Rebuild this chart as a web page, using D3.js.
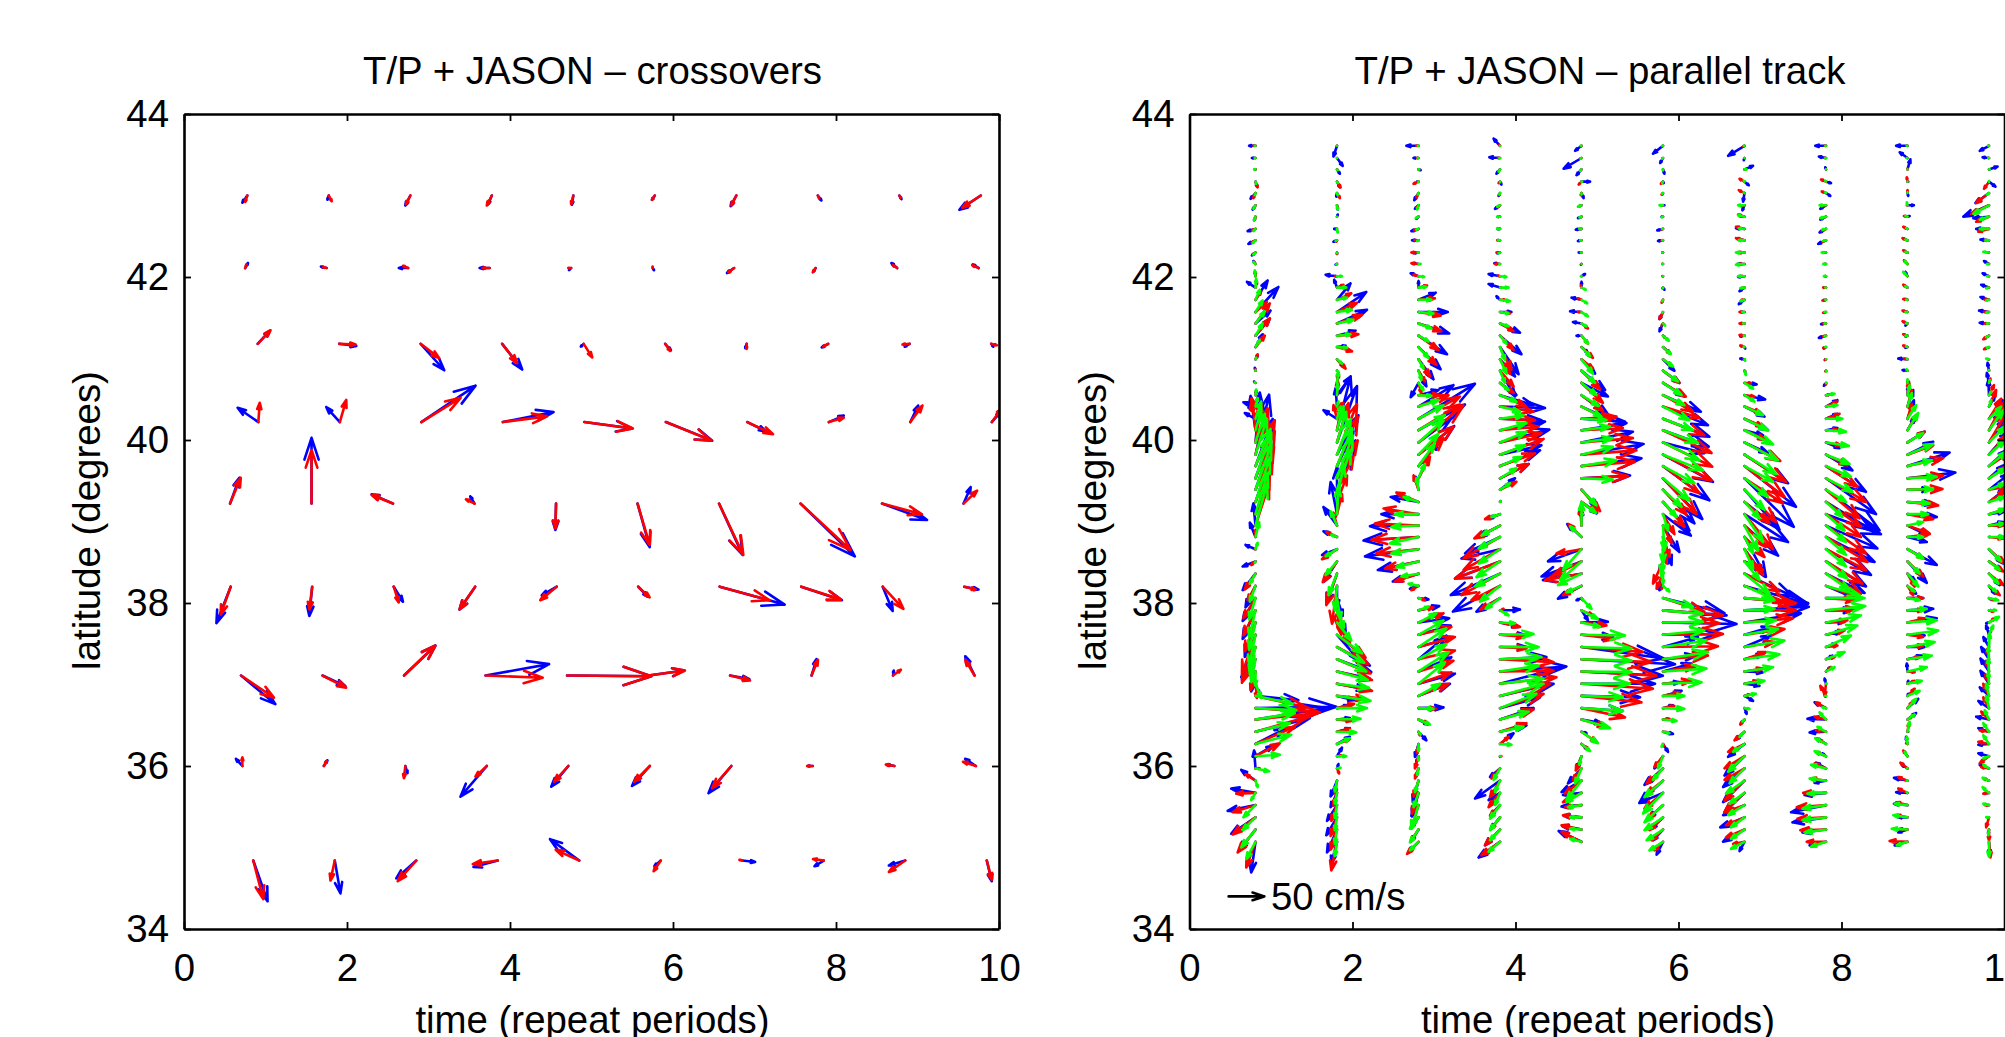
<!DOCTYPE html>
<html>
<head>
<meta charset="utf-8">
<title>T/P + JASON</title>
<script src="https://cdn.jsdelivr.net/npm/d3@7"></script>
<style>
  html, body { margin: 0; padding: 0; background: #fff; overflow: hidden; }
  text { font-family: "Liberation Sans", Arial, sans-serif; fill: #000; }
</style>
</head>
<body>
<div id="chart"></div>
<script>
var xTicks = [0, 2, 4, 6, 8, 10];
var yTicks = [34, 36, 38, 40, 42, 44];

// crossovers: one latitude per row, first time of the row, then [red u, red v, blue u, blue v] in cm/s
var crossLat = [43.0, 42.11, 41.18, 40.22, 39.22, 38.2, 37.11, 36.0, 34.84];
var crossTime = [0.777, 0.75, 0.904, 0.912, 0.565, 0.573, 0.70, 0.716, 0.85];
var cross1 = [[-3,-9,-7,-10],[4,-8,-2,-6],[-6,-12,-7,-14],[-7,-14,-5,-12],[-3,-12,-2,-13],[-4,-6,-4,-6],[-7,-14,-8,-15],[2,-4,5,-7],[2,-3,3,-5],[-26,-17,-30,-20]];
var cross2 = [[2,5,4,7],[-5,1,-8,2],[-7,3,-13,0],[-10,0,-14,0],[-4,0,-3,-3],[0,2,2,-3],[-8,-6,-10,-7],[-4,-6,-3,-5],[-6,4,-8,7],[-9,4,-8,5]];
var cross3 = [[18,19,17,18],[23,-1,24,-3],[26,-20,33,-37],[21,-27,28,-36],[12,-19,-4,-4],[7,-10,8,-9],[0,-7,-2,-6],[-7,-4,-9,-5],[-10,-1,-7,-4],[8,-2,3,-4]];
var cross4 = [[2,27,-29,20],[9,31,-19,21],[55,34,76,51],[62,8,71,14],[68,-9,67,-9],[64,-26,65,-26],[36,-17,26,-13],[21,6,21,9],[17,23,11,23],[14,19,12,14]];
var cross5 = [[15,36,13,36],[0,75,0,92],[-30,12,-30,13],[-12,6,-6,10],[-1,-35,-1,-37],[17,-58,17,-61],[34,-72,33,-72],[70,-65,76,-74],[56,-15,63,-23],[19,18,10,23]];
var cross6 = [[-14,-39,-20,-51],[-4,-32,-4,-41],[7,-22,13,-21],[-22,-32,-22,-32],[-23,-19,-21,-12],[16,-15,13,-14],[70,-19,91,-25],[56,-18,57,-19],[29,-31,14,-34],[16,-4,20,-4]];
var cross7 = [[46,-31,48,-40],[33,-17,32,-15],[44,42,44,42],[80,-3,89,16],[118,-1,118,-1],[51,7,50,7],[28,-7,27,-5],[9,22,7,23],[11,8,1,7],[-13,22,-13,27]];
var cross8 = [[0,12,-9,10],[4,7,5,8],[-2,-17,3,-10],[-16,-15,-37,-43],[-20,-22,-24,-29],[-22,-22,-25,-28],[-27,-31,-32,-38],[-8,0,-7,0],[-12,2,-10,2],[-18,6,-15,10]];
var cross9 = [[14,-54,20,-57],[-6,-28,8,-46],[-26,-29,-28,-25],[-35,-5,-34,-9],[-33,15,-41,30],[-10,-15,-9,-8],[-4,1,18,-2],[-15,2,-13,-8],[-23,-16,-23,-7],[7,-27,7,-29]];

// parallel track: one time per track, one latitude per along-track point,
// each point is [blue u, blue v, red u, red v, green u, green v] in cm/s
var trackTime = [0.81, 1.81, 2.81, 3.81, 4.81, 5.81, 6.81, 7.81, 8.81, 9.81];
var trackLat = [43.61,43.46,43.32,43.17,43.03,42.88,42.74,42.59,42.45,42.30,42.16,42.01,41.87,41.72,41.57,41.43,41.28,41.14,40.99,40.85,
  40.70,40.55,40.41,40.26,40.12,39.97,39.82,39.68,39.53,39.39,39.24,39.09,38.95,38.81,38.66,38.51,38.36,38.21,38.06,37.91,
  37.76,37.61,37.46,37.31,37.16,37.01,36.86,36.71,36.57,36.42,36.27,36.12,35.97,35.82,35.67,35.52,35.37,35.22,35.07];

var track1 = [[-9,0,-3,0,-1,0],[-5,0,-1,0,-1,0],[-1,0,0,0,-2,0],[2,-7,3,-8,1,-3],[-7,-8,-3,-7,-1,-3],[-4,-6,-2,-4,-3,-5],[-2,-5,-1,-4,-2,-5],[-11,-3,-5,-2,-3,-3],[-10,-5,-5,-3,-4,-4],[-5,-4,-4,-3,-3,-3],
  [-3,4,-2,3,-3,3],[-1,6,0,5,-1,8],[-12,8,2,8,1,12],[17,27,8,12,6,14],[32,35,16,14,10,16],[21,18,20,28,13,17],[20,24,20,24,10,17],[10,18,13,16,6,10],[3,5,3,7,1,2],[-1,4,0,2,0,1],
  [-2,2,-1,1,-1,1],[1,6,1,6,1,8],[-17,6,-6,11,3,12],[-15,8,-6,18,8,24],[-7,48,-5,44,8,30],[6,70,8,54,13,40],[19,84,17,65,16,50],[24,66,27,64,21,52],[22,62,27,66,22,64],[22,64,26,60,22,64],
  [21,62,24,62,20,62],[19,50,20,54,17,58],[-3,31,19,58,16,58],[-8,20,0,10,5,21],[-14,6,-1,0,3,9],[-18,-7,-6,-5,-1,-2],[-18,-23,-15,-22,-8,-14],[-14,-30,-11,-20,-8,-22],[-18,-32,-17,-28,-9,-30],[-18,-40,-17,-35,-9,-38],
  [-15,-48,-15,-40,-9,-38],[-18,-60,-19,-55,-9,-43],[-19,-46,-19,-50,-8,-38],[-20,-25,-14,-24,-6,-32],[-6,-28,-7,-26,0,-20],[5,-15,2,-20,8,-20],[60,-6,71,-16,52,-11],[113,2,90,-6,57,-3],[99,16,87,9,55,9],[76,19,73,21,48,12],
  [43,22,55,24,50,13],[25,15,34,18,34,2],[-2,25,6,0,19,-4],[-20,15,-14,9,3,-9],[-34,6,-27,-1,-6,-10],[-39,-8,-32,-10,-17,-17],[-34,-23,-32,-24,-18,-18],[-23,-29,-25,-32,-20,-25],[-6,-43,-13,-36,-13,-24]];

var track2 = [[-5,-15,0,0,0,0],[8,-11,0,0,0,0],[4,-6,1,-1,1,-1],[4,-8,5,-8,1,-2],[-1,-5,4,-7,1,-3],[1,-6,1,-4,1,-6],[1,3,0,0,0,0],[-4,0,-1,-1,1,-5],[-5,-2,-1,-2,-2,-1],[0,-2,0,-2,0,-1],
  [-2,-1,-1,-1,-1,-1],[-16,2,-3,0,7,0],[-4,11,9,4,13,0],[19,23,20,9,14,3],[41,28,28,13,21,3],[42,19,35,12,23,5],[26,7,30,2,19,2],[12,2,21,-6,14,-1],[9,-10,12,-13,7,-6],[0,0,0,0,0,0],
  [2,12,2,14,2,16],[19,26,1,20,1,16],[-2,26,9,5,2,7],[-19,12,-5,19,5,17],[19,75,7,38,9,33],[28,79,16,55,13,43],[30,55,28,71,19,50],[23,48,29,69,21,53],[26,53,29,53,22,60],[21,46,23,46,19,56],
  [0,49,14,37,9,54],[-9,45,7,28,2,38],[-19,26,-5,18,-9,20],[-19,8,-15,7,-8,3],[-21,-8,-21,-14,-16,-10],[-18,-28,-20,-29,-16,-19],[-15,-42,-15,-44,-12,-30],[0,-30,-7,-53,-3,-34],[8,-25,2,-42,5,-30],[12,-30,6,-34,10,-24],
  [18,-30,18,-28,20,-25],[33,-38,40,-32,35,-26],[46,-26,44,-24,38,-22],[48,-18,47,-20,41,-17],[46,-10,49,-12,43,-12],[42,-8,49,-10,45,-6],[24,-6,40,-4,47,-7],[15,4,24,6,42,0],[18,2,20,-2,33,1],[18,5,18,4,27,-1],
  [18,10,18,7,18,8],[7,12,6,1,13,0],[2,6,3,-7,5,1],[-9,-22,-3,-18,-3,-15],[-9,-20,-5,-18,-3,-15],[-14,-22,-8,-22,-3,-18],[-15,-25,-9,-26,-3,-18],[-14,-32,-9,-28,-3,-20],[-8,-30,-8,-40,-3,-20]];

var track3 = [[-17,0,-3,0,-1,0],[-7,0,-2,0,-1,0],[3,-1,1,0,1,0],[-2,0,-7,-3,0,-1],[-6,-10,-3,-6,-1,-2],[-5,-5,-3,-3,-2,-6],[-3,-3,-2,-1,-4,-2],[-10,-3,-6,-2,-3,-1],[-9,0,-6,0,-2,-1],[-6,-1,-10,0,-1,0],
  [-8,1,-10,1,3,0],[-11,4,-7,2,8,-1],[0,9,12,3,11,1],[24,10,23,2,18,0],[41,0,31,-5,21,-2],[43,-14,32,-11,18,-7],[40,-26,28,-20,14,-8],[31,-31,25,-25,14,-15],[21,-28,16,-24,7,-13],[11,-22,9,-15,4,-13],
  [-11,-20,4,-14,7,-10],[28,7,30,0,18,-1],[49,30,42,16,28,9],[79,49,58,31,35,19],[65,36,58,36,37,21],[46,34,63,52,35,31],[50,40,49,39,28,29],[30,39,35,39,23,32],[14,30,16,30,9,20],[-4,18,-7,20,-3,16],
  [-39,7,-31,13,-21,7],[-52,0,-49,8,-33,0],[-68,-1,-61,3,-38,-2],[-77,-5,-66,-4,-40,-9],[-75,-10,-59,-6,-38,-6],[-57,-12,-47,-10,-31,-8],[-36,-11,-33,-11,-24,-4],[-12,-4,-10,-6,-14,3],[14,-2,9,-3,3,-1],[29,6,21,4,14,5],
  [43,6,35,13,25,13],[45,13,46,11,35,20],[49,14,51,14,39,26],[39,33,51,12,39,21],[46,20,49,15,42,27],[51,14,46,16,37,30],[44,17,42,17,30,17],[35,1,25,-1,21,-1],[13,-7,13,-5,16,-7],[11,-12,2,-5,3,-4],
  [-5,-18,-2,-13,0,-10],[-3,-8,-5,-17,0,-6],[-3,-10,-5,-14,-2,-9],[-8,-30,-7,-22,-5,-16],[-9,-33,-9,-29,-7,-20],[-10,-15,-10,-33,-10,-33],[-10,-14,-11,-15,-12,-16],[-10,-16,-11,-17,-12,-18],[-14,-14,-16,-17,-12,-12]];

var track4 = [[-9,10,-1,1,0,0],[-15,1,-3,0,-1,0],[-5,-6,-1,-1,-2,-3],[2,-4,-2,-2,0,-1],[-2,-4,-1,-3,-1,-2],[-7,-5,-3,-3,-4,-2],[-3,0,-3,0,-4,0],[-4,0,-2,0,-4,0],[-3,0,-4,0,-3,0],[-4,-1,-5,0,-2,-1],
  [-8,1,-7,0,-1,0],[-16,3,-3,1,9,-1],[-16,5,2,0,12,0],[-5,5,7,0,14,-2],[16,0,14,-2,12,-2],[28,-13,19,-11,12,-4],[30,-26,19,-20,9,-11],[26,-38,16,-32,7,-18],[21,-24,14,-20,9,-20],[21,-36,19,-22,7,-17],
  [23,-17,19,-14,12,-10],[47,-14,37,-16,23,-9],[63,-2,47,-7,28,-7],[58,-2,49,-2,33,5],[63,12,54,5,37,10],[69,18,58,13,37,15],[58,13,61,22,35,13],[56,22,49,18,30,13],[40,20,40,20,23,14],[21,16,23,11,14,9],
  [1,1,1,1,1,1],[-15,-6,-21,-7,-12,-4],[-30,-16,-36,-18,-26,-14],[-49,-23,-51,-30,-30,-16],[-54,-13,-51,-29,-30,-20],[-63,-24,-63,-24,-33,-22],[-69,-30,-54,-30,-35,-18],[-66,-36,-40,-20,-28,-22],[-33,-19,-28,-16,-20,-15],[28,1,5,2,12,-7],
  [26,-6,28,-6,21,-1],[37,-1,35,-3,47,1],[37,0,37,-2,54,0],[65,3,75,-4,58,3],[93,7,75,1,54,8],[79,21,79,9,61,7],[75,17,70,17,61,17],[56,15,61,20,51,20],[47,16,47,14,40,11],[37,9,37,12,33,7],
  [19,15,12,10,16,-1],[0,-1,2,0,1,0],[-14,-12,-12,-14,-9,-16],[-35,-25,-14,-23,-7,-16],[-16,-10,-16,-20,-7,-17],[-13,-14,-14,-15,-14,-19],[-13,-16,-13,-17,-14,-18],[-21,-22,-21,-22,-14,-15],[-30,-22,-26,-19,-16,-14]];

var track5 = [[-9,-7,-1,-1,-1,0],[-25,-15,-2,-1,-1,-1],[-7,-8,-1,-1,-2,-2],[12,0,-4,-4,1,0],[3,-7,-1,-3,0,-2],[-4,-2,-2,-1,-5,-2],[-5,-2,-1,-1,-3,-1],[-8,-1,-3,0,-3,0],[-5,-1,-1,0,-2,0],[-4,0,-1,0,-1,0],
  [-1,-1,0,0,0,0],[5,3,0,0,-1,0],[0,8,-1,3,6,-3],[-14,3,-5,2,8,-5],[-16,1,-5,0,9,-6],[-12,2,9,-7,7,-4],[-7,0,9,-11,9,-11],[9,-8,16,-15,12,-13],[19,-20,16,-13,16,-20],[33,-27,26,-26,19,-17],
  [37,-19,30,-28,21,-17],[38,-28,30,-22,24,-15],[45,-20,40,-20,28,-14],[61,-4,49,3,35,-2],[63,10,58,3,40,5],[72,15,72,6,44,6],[87,15,77,6,44,11],[84,11,75,6,49,8],[68,4,65,3,44,-2],[23,-25,26,-30,21,-22],
  [21,-16,22,-15,20,-15],[2,0,2,0,2,0],[0,22,-2,25,0,33],[-20,18,-18,18,-16,15],[-47,-17,-35,-6,-26,-29],[-56,-21,-40,-20,-30,-26],[-54,-9,-51,-9,-33,-16],[-33,-18,-26,-13,-21,-9],[-7,-3,2,-3,14,-15],[9,-14,16,-7,23,-12],
  [37,1,35,-4,26,-6],[44,-3,47,-6,61,-1],[115,-16,86,-7,70,-2],[131,-7,98,-4,70,-2],[114,-6,105,-6,70,-1],[103,0,100,-7,68,0],[82,-2,84,-9,58,-2],[58,-4,61,-13,58,-4],[28,-5,35,-10,40,-12],[7,-2,22,-15,23,-16],
  [8,-7,10,-8,12,-10],[-7,-18,-8,-20,-3,-12],[-19,-21,-12,-16,-9,-21],[-28,-16,-23,-18,-21,-27],[-26,-3,-26,-13,-21,-13],[-28,-2,-23,-3,-19,-3],[-25,2,-26,3,-16,0],[-27,5,-28,6,-16,1],[-32,15,-28,14,-16,4]];

var track6 = [[-14,-11,-1,-1,-1,0],[-4,-7,-1,-1,-1,-1],[2,-6,0,-1,0,-1],[1,-2,-3,-3,-1,-2],[-1,-2,-2,-2,-1,-1],[2,0,-2,0,-5,0],[-2,0,-1,0,-2,-1],[-8,-2,-2,-1,-1,0],[-7,-1,-2,0,-1,0],[-1,0,-1,0,-1,0],
  [-1,0,-1,0,-1,0],[0,0,-1,0,0,0],[2,-3,-1,-1,0,-1],[-1,-3,-2,-4,-1,-2],[-5,-10,-5,-9,-1,-1],[-5,-11,-2,-3,3,-3],[3,-3,3,-3,8,-7],[10,-9,10,-9,11,-10],[16,-16,12,-9,14,-10],[23,-17,23,-17,21,-15],
  [30,-19,32,-19,26,-17],[53,-23,42,-23,30,-14],[63,-26,51,-16,37,-19],[65,-25,58,-23,42,-16],[64,-23,68,-32,49,-18],[58,-15,69,-34,51,-25],[70,-38,68,-36,56,-22],[65,-48,51,-38,44,-24],[55,-57,47,-50,37,-31],[44,-47,33,-35,26,-24],
  [37,-40,30,-35,19,-21],[39,-30,16,-28,7,-23],[23,-37,12,-25,2,-35],[12,-39,9,-28,0,-37],[7,-20,5,-20,-2,-34],[-5,-12,-14,-31,-2,-22],[-7,-21,-9,-21,0,-14],[-5,-6,-2,-4,9,-8],[86,-21,58,-19,42,-12],[89,-7,84,-7,56,-5],
  [103,-2,79,-1,56,1],[75,1,84,1,58,6],[49,14,77,1,61,9],[47,5,63,5,63,10],[40,11,47,8,61,4],[23,2,40,4,54,2],[26,7,23,5,30,0],[14,4,16,3,30,-1],[7,1,9,1,19,-2],[14,-3,6,-1,9,-2],
  [7,-11,1,-3,-2,-4],[-12,-17,-12,-15,-7,-17],[-26,-23,-23,-21,-14,-16],[-33,-31,-23,-18,-26,-23],[-33,-14,-26,-22,-28,-29],[-19,-17,-21,-19,-26,-24],[-16,-16,-19,-18,-26,-18],[-14,-15,-16,-15,-23,-15],[-9,-18,-12,-12,-19,-12]];

var track7 = [[-23,-14,-2,-1,-1,0],[-1,-3,0,0,0,0],[12,5,1,0,3,0],[6,-5,-7,4,-1,1],[-2,-12,-8,4,-1,1],[-3,-7,-6,-1,-9,0],[-7,1,-9,3,-9,2],[-12,1,-12,3,-8,1],[-10,2,-12,3,-8,0],[-7,0,-9,0,-12,0],
  [-10,0,-7,0,-12,-1],[-9,-1,-5,0,-9,0],[-7,-5,-3,-1,-6,-1],[-8,-6,-4,0,-6,-2],[-5,0,-7,0,-3,0],[-5,0,-7,0,-2,0],[-6,-1,-7,1,-1,0],[1,-2,-6,2,-1,0],[-6,1,-1,0,1,-2],[1,-2,1,-1,2,-6],
  [17,-2,9,0,12,-8],[29,-6,14,-2,14,-9],[28,-14,23,-9,26,-12],[33,-16,26,-11,33,-16],[26,-7,30,-14,40,-20],[33,-15,50,-26,47,-25],[61,-40,58,-38,44,-27],[72,-57,56,-43,40,-22],[69,-68,54,-35,33,-26],[49,-56,44,-45,28,-28],
  [42,-33,35,-30,21,-23],[61,-39,40,-49,26,-39],[47,-42,30,-30,19,-35],[30,-56,28,-28,12,-23],[28,-38,26,-36,12,-27],[26,-12,26,-12,21,-26],[68,-32,49,-25,35,-28],[89,-25,63,-25,40,-18],[89,-7,72,-7,42,-3],[90,5,72,0,42,2],
  [79,13,68,6,44,3],[37,11,56,8,47,8],[37,16,42,7,56,9],[26,7,30,10,49,7],[26,-1,26,4,40,6],[21,-3,19,4,28,4],[12,-7,7,2,16,3],[3,-8,3,-1,7,-1],[-5,-5,-6,-7,-3,-3],[-12,-11,-14,-12,-7,-7],
  [-23,-18,-23,-11,-16,-11],[-28,-27,-28,-17,-23,-22],[-30,-26,-28,-16,-21,-21],[-30,-30,-28,-28,-26,-18],[-28,-27,-28,-27,-21,-15],[-30,-14,-28,-10,-23,-14],[-34,-14,-26,-11,-19,-14],[-30,-17,-26,-11,-19,-13],[-7,-13,-16,-3,-19,-10]];

var track8 = [[-15,0,-2,0,-1,0],[-10,2,-2,0,-1,0],[-1,3,0,0,0,0],[7,-2,-7,3,-1,1],[6,-4,-6,2,-1,1],[-8,-5,-7,-1,-9,0],[-8,-4,-6,-2,-8,-2],[-9,-5,-6,-3,-5,-1],[-11,-5,-5,-2,-4,-1],[-2,0,-3,0,-6,0],
  [-1,0,-2,0,-4,0],[-1,0,-2,0,-3,0],[-1,0,-4,0,-1,0],[-3,-1,-5,-1,-1,0],[-3,-1,-4,-1,-2,0],[-7,-1,-4,0,-2,0],[-10,-3,-4,-1,-2,-1],[-3,-2,-4,-1,-1,0],[-1,0,-2,-1,0,0],[0,0,-1,-1,1,-1],
  [-3,-4,0,-2,1,0],[5,1,5,1,12,2],[16,9,16,7,16,2],[16,7,19,7,23,0],[16,3,16,1,28,-2],[19,-8,21,-4,32,-5],[37,-22,30,-15,33,-13],[56,-36,44,-29,35,-15],[70,-50,56,-33,37,-19],[75,-57,47,-40,28,-17],
  [65,-40,49,-35,23,-21],[77,-28,49,-32,26,-23],[72,-32,56,-39,28,-23],[68,-35,58,-35,28,-25],[63,-36,56,-29,28,-24],[56,-35,51,-31,30,-24],[54,-27,49,-28,33,-23],[42,-18,42,-15,47,-13],[44,0,42,-3,54,0],[37,0,42,2,55,6],
  [26,1,30,3,49,10],[21,4,26,6,44,13],[14,5,16,2,35,16],[9,5,12,3,26,10],[6,6,7,6,12,6],[-2,7,-2,-17,1,0],[-1,-1,-8,14,-1,0],[-16,8,-14,8,-5,1],[-26,1,-16,4,-9,10],[-23,-1,-14,2,-12,7],
  [-14,8,-9,6,-15,8],[-5,4,-14,6,-16,7],[-14,8,-16,7,-21,5],[-16,-3,-21,3,-23,3],[-30,-3,-32,0,-26,-1],[-49,-10,-41,-3,-33,-5],[-47,-7,-40,-2,-33,-4],[-33,-4,-36,-1,-30,-4],[-23,-5,-27,0,-21,-7]];

var track9 = [[-16,0,-1,0,-1,0],[-11,8,-1,0,-1,0],[4,14,0,1,0,0],[1,0,-1,6,0,0],[1,-4,0,4,0,1],[9,0,-1,0,-1,4],[3,1,-5,1,-3,1],[-3,1,-6,3,-2,1],[-3,1,-7,3,-3,1],[-3,1,-6,3,-3,1],
  [-2,2,-5,5,-4,4],[-3,6,-2,2,-6,6],[-3,2,-6,4,-3,2],[-3,1,-6,1,-2,0],[-4,1,-7,2,-3,0],[-3,-3,-7,3,-2,0],[-3,-1,-6,2,-3,0],[-3,-1,-6,2,-2,1],[-13,1,-5,1,-1,1],[-7,1,-2,1,-1,2],
  [0,3,0,3,0,5],[1,12,2,19,3,14],[8,23,6,23,6,19],[9,26,6,21,12,19],[10,17,12,21,15,24],[24,15,24,15,22,13],[36,18,36,13,36,15],[59,19,50,11,34,8],[67,8,50,4,41,2],[31,0,49,1,36,1],
  [36,-2,43,-5,31,-2],[41,-4,36,-7,29,0],[27,-13,31,-11,22,5],[27,-7,31,4,22,0],[41,-22,22,-13,22,-13],[27,-30,22,-21,17,-17],[10,-9,10,-18,15,-18],[12,-11,8,-13,10,-8],[22,0,22,0,17,-3],[36,2,22,0,27,2],
  [41,6,24,6,41,3],[24,-1,22,-3,43,6],[24,0,22,2,38,7],[20,5,17,3,34,5],[-1,11,10,-1,27,6],[1,4,10,4,20,4],[1,3,10,10,17,7],[15,13,6,8,12,13],[12,9,6,4,10,7],[1,0,2,12,3,14],
  [-2,10,-2,1,-1,10],[-1,1,-6,8,-4,6],[-8,5,-10,8,-1,0],[-19,4,-13,5,-1,0],[-16,1,-13,6,-1,1],[-19,2,-16,4,-18,2],[-13,0,-15,3,-20,3],[-13,-4,-11,1,-22,1],[-18,-5,-25,1,-15,-5]];

var track10 = [[-13,-7,-1,0,-1,0],[-9,1,-1,0,-1,0],[12,4,0,0,1,0],[9,-7,-7,-10,0,1],[-19,-14,-18,-14,-3,-2],[-36,-16,-25,-12,-22,-12],[-22,-2,-18,-7,-13,-4],[-18,0,-15,-4,-13,0],[-12,1,-6,0,-5,0],[-1,0,-2,0,-8,1],
  [-7,4,-1,0,-3,0],[-9,4,-1,0,-3,0],[-11,4,-2,0,-4,-1],[-12,4,-6,0,-4,-1],[-14,2,-7,0,-4,-1],[-13,1,-6,0,-3,0],[-4,-2,-8,-5,-4,-2],[-1,-1,-7,-3,-3,-1],[-1,0,-1,0,-4,1],[-2,11,0,1,0,1],
  [-3,14,2,6,1,4],[-1,21,7,14,3,5],[8,14,10,23,3,9],[19,26,17,28,17,17],[15,24,20,38,20,28],[24,34,24,41,22,22],[29,34,24,27,22,20],[24,22,27,18,24,20],[20,18,24,16,22,14],[29,23,22,4,22,9],
  [24,19,22,16,22,7],[20,3,22,7,22,7],[20,5,20,0,22,3],[1,0,20,-2,22,0],[20,-20,22,-20,17,-17],[17,-12,20,-14,15,-12],[15,-16,20,-16,13,-14],[8,-11,15,-13,10,-8],[3,-2,6,-3,13,-3],[3,0,6,-2,10,0],
  [-4,-1,8,6,14,8],[-4,13,3,6,6,13],[-8,14,-1,5,1,19],[-11,17,-3,14,-1,17],[-12,18,-4,15,-1,18],[-12,18,-5,13,-1,16],[-13,12,-8,17,-4,17],[-15,10,-8,15,-4,17],[-18,4,-11,11,-6,13],[-15,5,-13,2,-8,12],
  [-15,-1,-15,3,-8,12],[-15,4,-13,-10,-8,-3],[-13,5,-11,2,-8,5],[-7,3,-8,3,-9,4],[-4,0,-8,-1,-9,8],[-3,0,-6,0,-8,2],[-1,-1,-4,-14,-4,0],[-1,-6,0,-15,-1,-8],[1,-18,2,-22,0,-21]];

var crossRows = [cross1, cross2, cross3, cross4, cross5, cross6, cross7, cross8, cross9];
var tracks = [track1, track2, track3, track4, track5, track6, track7, track8, track9, track10];

var width = 2005, height = 1037, plotSize = 815, fontSize = 38.4;
var blue = "#0000ff", red = "#ff0000", green = "#00ff00";

var svg = d3.select("#chart").append("svg")
  .attr("width", width)
  .attr("height", height);

var xScale = d3.scaleLinear().domain([0, 10]).range([0, plotSize]);
var yScale = d3.scaleLinear().domain([34, 44]).range([plotSize, 0]);
// 50 cm/s is a 35.7 px arrow
var speed = d3.scaleLinear().domain([0, 50]).range([0, 35.7]);

// same head as matlab quiver: alpha and beta are 0.33
function arrow(t, lat, u, v) {
  var a = 0.33, b = 0.33;
  var x0 = xScale(t), y0 = yScale(lat);
  var dx = speed(u), dy = -speed(v);
  var x1 = x0 + dx, y1 = y0 + dy;
  var p = d3.path();
  p.moveTo(x0, y0);
  p.lineTo(x1, y1);
  p.moveTo(x1 - a * (dx + b * dy), y1 - a * (dy - b * dx));
  p.lineTo(x1, y1);
  p.lineTo(x1 - a * (dx - b * dy), y1 - a * (dy + b * dx));
  return p.toString();
}

function drawArrows(g, vectors, color) {
  g.append("g")
    .selectAll("path")
    .data(vectors)
    .enter()
    .append("path")
    .attr("d", function(d) { return arrow(d.t, d.lat, d.u, d.v); })
    .attr("fill", "none")
    .attr("stroke", color)
    .attr("stroke-width", 2.6)
    .attr("stroke-linecap", "round")
    .attr("stroke-linejoin", "round");
}

function drawPanel(left, top, title, clipId, titleShift) {
  var g = svg.append("g").attr("transform", "translate(" + left + "," + top + ")");

  g.append("clipPath").attr("id", clipId)
    .append("rect")
    .attr("width", plotSize)
    .attr("height", plotSize);

  var plot = g.append("g").attr("clip-path", "url(#" + clipId + ")");

  var axisBottom = d3.axisBottom(xScale).tickValues(xTicks).tickSize(-7).tickSizeOuter(0).tickPadding(25);
  var axisTop = d3.axisTop(xScale).tickValues(xTicks).tickSize(-7).tickSizeOuter(0).tickFormat("");
  var axisLeft = d3.axisLeft(yScale).tickValues(yTicks).tickSize(-7).tickSizeOuter(0).tickPadding(15);
  var axisRight = d3.axisRight(yScale).tickValues(yTicks).tickSize(-7).tickSizeOuter(0).tickFormat("");

  g.append("g").attr("transform", "translate(0," + plotSize + ")").call(axisBottom);
  g.append("g").call(axisTop);
  g.append("g").call(axisLeft);
  g.append("g").attr("transform", "translate(" + plotSize + ",0)").call(axisRight);

  g.selectAll(".domain").attr("stroke", "#000").attr("stroke-width", 2.6);
  g.selectAll(".tick line").attr("stroke", "#000").attr("stroke-width", 1.8);
  g.selectAll(".tick text").style("font-size", fontSize + "px").attr("fill", "#000");

  g.append("text")
    .attr("x", plotSize / 2 + titleShift)
    .attr("y", -30)
    .attr("text-anchor", "middle")
    .style("font-size", fontSize + "px")
    .text(title);

  g.append("text")
    .attr("x", plotSize / 2 + 1)
    .attr("y", plotSize + 104)
    .attr("text-anchor", "middle")
    .style("font-size", fontSize + "px")
    .text("time (repeat periods)");

  g.append("text")
    .attr("transform", "translate(-84," + (plotSize / 2 - 1) + ") rotate(-90)")
    .attr("text-anchor", "middle")
    .style("font-size", fontSize + "px")
    .text("latitude (degrees)");

  return plot;
}

// left panel, blue is under red
var crossPlot = drawPanel(184, 114, "T/P + JASON \u2013 crossovers", "clip-cross", 1);
var crossBlue = [], crossRed = [];
crossRows.forEach(function(row, i) {
  row.forEach(function(d, j) {
    var t = crossTime[i] + j;
    crossRed.push({t: t, lat: crossLat[i], u: d[0], v: d[1]});
    crossBlue.push({t: t, lat: crossLat[i], u: d[2], v: d[3]});
  });
});
drawArrows(crossPlot, crossBlue, blue);
drawArrows(crossPlot, crossRed, red);

// right panel, order is blue, red, green
var trackPlot = drawPanel(1189.5, 114, "T/P + JASON \u2013 parallel track", "clip-track", 3);
[[0, blue], [2, red], [4, green]].forEach(function(s) {
  var vectors = [];
  tracks.forEach(function(track, i) {
    track.forEach(function(d, k) {
      vectors.push({t: trackTime[i], lat: trackLat[k], u: d[s[0]], v: d[s[0] + 1]});
    });
  });
  drawArrows(trackPlot, vectors, s[1]);
});

// reference arrow
drawArrows(trackPlot, [{t: 0.48, lat: 34.4, u: 50, v: 0}], "#000");
trackPlot.append("text")
  .attr("x", xScale(1))
  .attr("y", yScale(34.23))
  .style("font-size", fontSize + "px")
  .text("50 cm/s");
</script>
</body>
</html>
